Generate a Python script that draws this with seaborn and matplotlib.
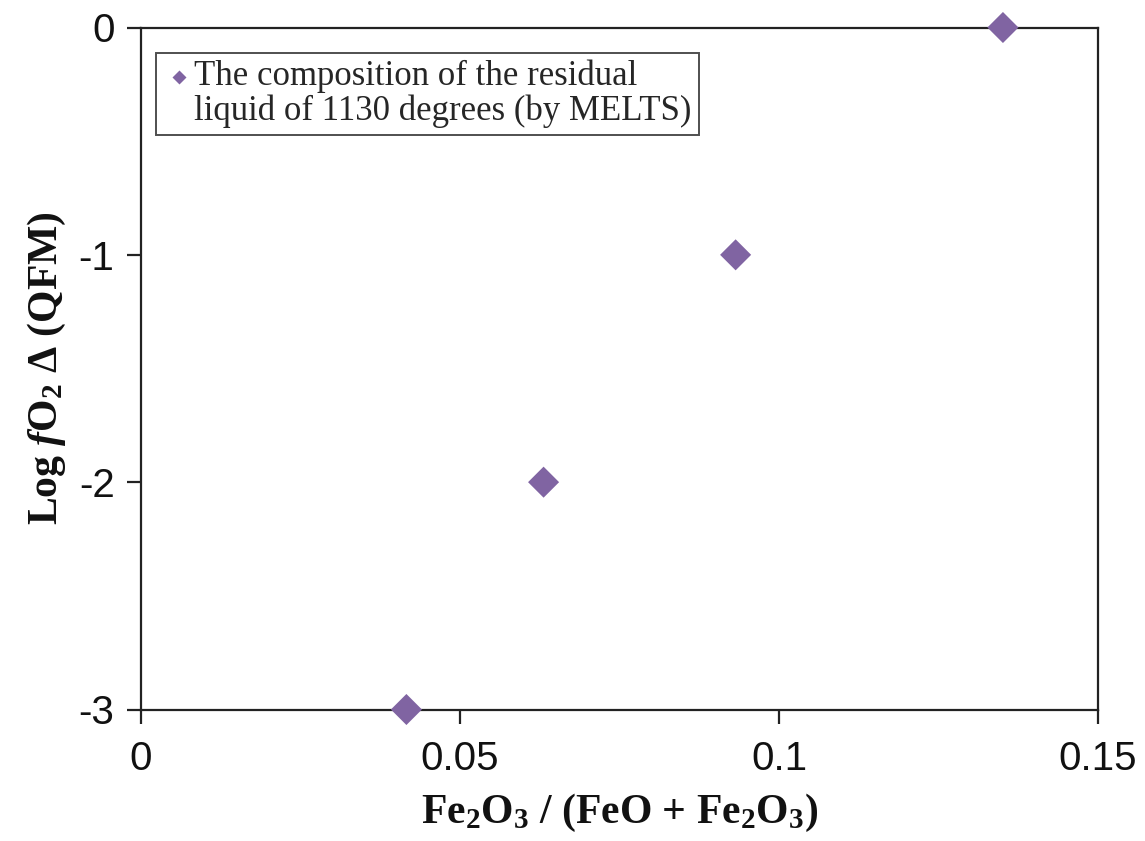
import matplotlib
matplotlib.use("Agg")
import matplotlib.pyplot as plt
from matplotlib.lines import Line2D
from matplotlib.legend_handler import HandlerLine2D
import numpy as np
import seaborn as sns
import pandas as pd

# Fe3+ ratio of the residual liquid vs. oxygen fugacity offset from QFM
fe_ratio = [0.0416, 0.0631, 0.0932, 0.1351]
log_fo2_qfm = [-3, -2, -1, 0]
series_label = "The composition of the residual\nliquid of 1130 degrees (by MELTS)"

x_ticks = [0, 0.05, 0.1, 0.15]
x_tick_labels = ["0", "0.05", "0.1", "0.15"]
y_ticks = [-3, -2, -1, 0]
y_tick_labels = ["-3", "-2", "-1", "0"]

df = pd.DataFrame({"ratio": fe_ratio, "dqfm": log_fo2_qfm, "series": series_label})

sns.set_theme(style="white")
plt.rcParams["font.family"] = ["Liberation Sans", "DejaVu Sans"]
plt.rcParams["mathtext.fontset"] = "custom"
plt.rcParams["mathtext.rm"] = "Liberation Serif:bold"
plt.rcParams["mathtext.it"] = "Liberation Serif:bold:italic"
plt.rcParams["mathtext.bf"] = "Liberation Serif:bold"

fig = plt.figure(figsize=(11.45, 8.41), dpi=100)
ax = fig.add_axes([141 / 1145, 1 - 709.5 / 841, (1098 - 141) / 1145, (709.5 - 27.5) / 841])

purple = "#8064A2"
sns.scatterplot(data=df, x="ratio", y="dqfm", color=purple, marker="D", s=250,
                edgecolor="none", ax=ax, clip_on=False, zorder=5, legend=False)

ax.set_xlim(0, 0.15)
ax.set_ylim(-3, 0)
ax.set_xticks(x_ticks)
ax.set_xticklabels(x_tick_labels)
ax.set_yticks(y_ticks)
ax.set_yticklabels(y_tick_labels)

for side in ["left", "right", "top", "bottom"]:
    ax.spines[side].set_visible(True)
    ax.spines[side].set_color("#222222")
    ax.spines[side].set_linewidth(1.6)

ax.tick_params(axis="both", which="major", direction="out", length=10, width=1.6,
               color="#222222", labelsize=29, labelcolor="#111111")
ax.tick_params(axis="x", pad=12, bottom=True)
ax.tick_params(axis="y", pad=9, left=True)

serif_bold = {"family": "Liberation Serif", "weight": "bold", "size": 30, "color": "#111111"}
ax.set_xlabel(r"Fe$_2$O$_3$ / (FeO + Fe$_2$O$_3$)", fontdict=serif_bold, labelpad=10)
ax.set_ylabel(r"Log $f$O$_2$ $\Delta$ (QFM)", fontdict=serif_bold, labelpad=8)


class FirstLineHandler(HandlerLine2D):
    """Places the legend marker level with the first line of a two-line label."""

    def __init__(self, shift, **kw):
        super().__init__(**kw)
        self.shift = shift

    def create_artists(self, legend, orig_handle, xdescent, ydescent, width, height,
                       fontsize, trans):
        artists = super().create_artists(legend, orig_handle, xdescent, ydescent,
                                         width, height, fontsize, trans)
        for a in artists:
            a.set_ydata(np.asarray(a.get_ydata(), dtype=float) + self.shift * fontsize)
        return artists


handle = Line2D([], [], linestyle="none", marker="D", markersize=7.5,
                markerfacecolor=purple, markeredgecolor="none")
leg = ax.legend([handle], [series_label], loc="upper left",
                bbox_to_anchor=(0.0157, 0.963), frameon=True, fancybox=False,
                prop={"family": "Liberation Serif", "size": 25}, handletextpad=0.0,
                handlelength=0.9, borderpad=0.2, borderaxespad=0.0,
                handler_map={handle: FirstLineHandler(0.48)})
leg.get_frame().set_edgecolor("#222222")
leg.get_frame().set_linewidth(1.4)
for t in leg.get_texts():
    t.set_linespacing(1.05)

fig.savefig("out.png", dpi=100, facecolor="white")
